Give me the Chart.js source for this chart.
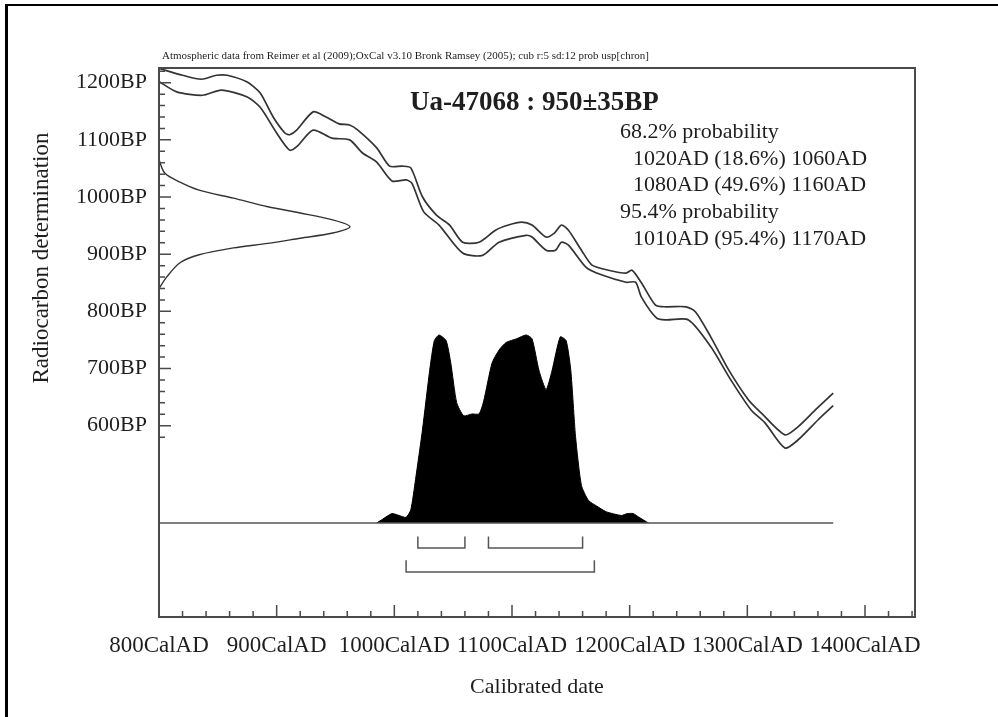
<!DOCTYPE html>
<html><head><meta charset="utf-8">
<script src="https://cdn.jsdelivr.net/npm/chart.js@4.4.0/dist/chart.umd.min.js"></script>
<style>
html,body{margin:0;padding:0;background:#fff;}
#wrap{position:relative;width:998px;height:717px;overflow:hidden;background:#fff;}
#border{position:absolute;left:5px;top:4px;width:1000px;height:730px;border-top:2px solid #000;border-left:3px solid #000;}
canvas{position:absolute;left:0;top:0;}
</style></head><body>
<div id="wrap"><div id="border"></div><canvas id="c" width="998" height="717" style="width:998px;height:717px"></canvas></div>
<script>
// Calibration curve (upper and lower envelope), calendar year AD vs BP
const upperYears = [800,820,836,849,858,875,886,897,907,911,917,931,942,953,962,969,985,996,1007,1014,1024,1036,1047,1058,1072,1086,1097,1108,1117,1129,1136,1142,1148,1159,1168,1182,1197,1202,1210,1222,1231,1248,1256,1269,1284,1301,1312,1332,1343,1358,1373];
const upperBP    = [1225,1213,1206,1213,1213,1201,1182,1140,1112,1109,1117,1149,1140,1128,1126,1117,1086,1054,1054,1051,1000,968,951,921,921,942,951,956,951,930,937,951,942,907,881,872,867,872,850,811,808,808,799,755,698,645,622,584,598,628,657];
const lowerYears = [800,815,837,853,875,886,900,911,917,931,947,962,973,985,998,1010,1015,1025,1038,1058,1075,1089,1112,1117,1129,1137,1142,1148,1163,1176,1197,1205,1210,1223,1231,1250,1269,1286,1303,1315,1332,1343,1360,1373];
const lowerBP    = [1202,1184,1178,1187,1175,1157,1112,1082,1088,1117,1103,1100,1077,1061,1028,1030,1024,974,951,902,898,921,933,930,907,907,921,916,877,864,851,851,825,788,785,785,738,680,628,605,561,575,610,635];
// Radiocarbon measurement distribution (950±35BP), relative amplitude
const gaussBP  = [1065,1042,1026,1012,998,983,972,960,948,937,928,919,911,899,885,860,840];
const gaussAmp = [0,0.03,0.11,0.21,0.39,0.57,0.74,0.91,1.0,0.91,0.74,0.57,0.39,0.21,0.11,0.04,0];
// Calibrated probability distribution, relative
const distYears = [985,990,998,1004,1010,1014,1018,1024,1030,1034,1038,1044,1048,1053,1059,1066,1072,1076,1083,1089,1095,1104,1112,1117,1123,1129,1134,1141,1146,1150,1154,1159,1165,1172,1180,1193,1198,1203,1208,1216];
const distProb  = [0,0.02,0.05,0.04,0.03,0.07,0.23,0.5,0.81,0.97,1.0,0.97,0.85,0.64,0.57,0.58,0.58,0.65,0.85,0.92,0.96,0.98,1.0,0.98,0.81,0.71,0.81,0.99,0.97,0.81,0.46,0.2,0.12,0.09,0.06,0.04,0.05,0.05,0.03,0];
const baselineRange = [800,1373];
// Ranges
const ranges68 = [[1020,1060],[1080,1160]];
const ranges95 = [[1010,1170]];
// Ticks
const xTickValues = [800,820,840,860,880,900,920,940,960,980,1000,1020,1040,1060,1080,1100,1120,1140,1160,1180,1200,1220,1240,1260,1280,1300,1320,1340,1360,1380,1400,1420,1440];
const yTickValues = [580,600,620,640,660,680,700,720,740,760,780,800,820,840,860,880,900,920,940,960,980,1000,1020,1040,1060,1080,1100,1120,1140,1160,1180,1200,1220];
// Texts
const headerText = 'Atmospheric data from Reimer et al (2009);OxCal v3.10 Bronk Ramsey (2005); cub r:5 sd:12 prob usp[chron]';
const titleText = 'Ua-47068 : 950\u00B135BP';
const probLines = ['68.2% probability','  1020AD (18.6%) 1060AD','  1080AD (49.6%) 1160AD','95.4% probability','  1010AD (95.4%) 1170AD'];
const xTitle = 'Calibrated date';
const yTitle = 'Radiocarbon determination';

const SERIF = '"Liberation Serif", "DejaVu Serif", serif';
const LINE = '#333';

function zip(a,b){ return a.map((v,i)=>({x:v,y:b[i]})); }
function bracket(r, yLine, yTop){
  return [{x:r[0],y:yTop},{x:r[0],y:yLine},{x:r[1],y:yLine},{x:r[1],y:yTop}];
}
const lineDs = (data, extra) => Object.assign({type:'line', data, borderColor:LINE, borderWidth:1.7, pointRadius:0, fill:false, tension:0.25}, extra||{});

const datasets = [
  lineDs(zip(upperYears, upperBP)),
  lineDs(zip(lowerYears, lowerBP)),
  lineDs(gaussBP.map((b,i)=>({x:gaussAmp[i], y:b})), {xAxisID:'xg', tension:0.3, borderWidth:1.4}),
  lineDs([{x:baselineRange[0],y:0},{x:baselineRange[1],y:0}], {yAxisID:'yp', tension:0, borderColor:'#555', borderWidth:1.6}),
  lineDs(zip(distYears, distProb), {yAxisID:'yp', tension:0.2, borderColor:'#000', borderWidth:1, backgroundColor:'#000', fill:'origin'}),
];
ranges68.forEach(r=>datasets.push(lineDs(bracket(r,-0.133,-0.072),{yAxisID:'yp',tension:0,borderColor:'#555',borderWidth:1.5})));
ranges95.forEach(r=>datasets.push(lineDs(bracket(r,-0.26,-0.198),{yAxisID:'yp',tension:0,borderColor:'#555',borderWidth:1.5})));

const decor = {
  id:'decor',
  afterDraw(chart){
    const {ctx, chartArea:a, scales} = chart;
    ctx.save();
    ctx.strokeStyle = '#4a4a4a';
    ctx.lineWidth = 2;
    ctx.strokeRect(a.left, a.top, a.right-a.left, a.bottom-a.top);
    ctx.lineWidth = 1.5;
    ctx.beginPath();
    scales.y.ticks.forEach(t=>{
      const p = scales.y.getPixelForValue(t.value);
      const L = t.value%100===0 ? 12 : 6;
      ctx.moveTo(a.left, p); ctx.lineTo(a.left+L, p);
    });
    scales.x.ticks.forEach(t=>{
      const p = scales.x.getPixelForValue(t.value);
      const L = t.value%100===0 ? 12 : 6;
      ctx.moveTo(p, a.bottom); ctx.lineTo(p, a.bottom-L);
    });
    ctx.stroke();
    ctx.fillStyle = '#1e1e1e';
    // header
    ctx.font = '11px ' + SERIF;
    ctx.textBaseline = 'alphabetic';
    ctx.textAlign = 'left';
    ctx.fillText(headerText, a.left+3, a.top-9);
    // title
    ctx.font = 'bold 27px ' + SERIF;
    ctx.fillText(titleText, 410, 110);
    // probabilities
    ctx.font = '22px ' + SERIF;
    probLines.forEach((s,i)=>{
      const ind = s.startsWith('  ');
      ctx.fillText(s.trim(), ind ? 633 : 620, 138 + i*26.7);
    });
    // x title
    ctx.textAlign = 'center';
    ctx.fillText(xTitle, (a.left+a.right)/2, 693);
    // y title
    ctx.save();
    ctx.translate(48, 258);
    ctx.rotate(-Math.PI/2);
    ctx.font = '23px ' + SERIF;
    ctx.fillText(yTitle, 0, 0);
    ctx.restore();
    ctx.restore();
  }
};

new Chart(document.getElementById('c'), {
  type:'line',
  data:{datasets},
  options:{
    responsive:false, animation:false, events:[],
    parsing:true,
    layout:{padding:{top:68, right:83, left:0, bottom:0}},
    plugins:{legend:{display:false}, tooltip:{enabled:false}},
    scales:{
      x:{type:'linear', min:800, max:1442.5,
        grid:{display:false, drawTicks:false}, border:{display:false},
        afterBuildTicks: s => { s.ticks = xTickValues.map(v=>({value:v})); },
        afterFit: s => { s.height = 100; },
        ticks:{autoSkip:false, maxRotation:0, padding:15, color:'#1e1e1e', font:{family:SERIF, size:23},
          callback: v => v%100===0 ? v+'CalAD' : ''}
      },
      y:{type:'linear', min:265.4, max:1225.7,
        grid:{display:false, drawTicks:false}, border:{display:false},
        afterBuildTicks: s => { s.ticks = yTickValues.map(v=>({value:v})); },
        afterFit: s => { s.width = 159; },
        ticks:{autoSkip:false, padding:12, color:'#1e1e1e', font:{family:SERIF, size:22},
          callback: v => v%100===0 ? v+'BP' : ''}
      },
      xg:{type:'linear', display:false, min:0, max:3.96},
      yp:{type:'linear', display:false, min:-0.5, max:2.42}
    }
  },
  plugins:[decor]
});
</script>
</body></html>
